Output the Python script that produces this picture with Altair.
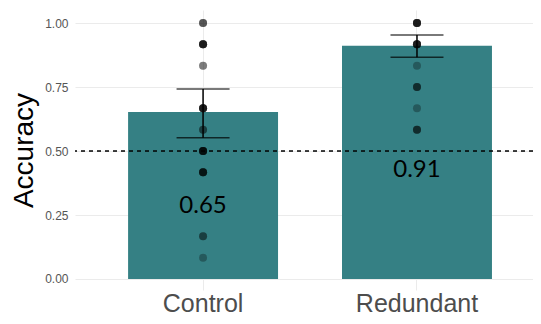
import altair as alt
import pandas as pd

conditions = ["Control", "Redundant"]
means = [0.652, 0.911]
se_low = [0.552, 0.866]
se_high = [0.742, 0.953]
label_text = ["0.65", "0.91"]
label_y = [0.287, 0.426]

control_values = [1.0, 0.917, 0.833, 0.667, 0.583, 0.5, 0.417, 0.167, 0.083]
control_counts = [3, 6, 2, 6, 2, 6, 5, 2, 1]
redundant_values = [1.0, 0.917, 0.833, 0.75, 0.667, 0.583]
redundant_counts = [6, 6, 1, 3, 1, 3]

summary = pd.DataFrame({
    "condition": conditions,
    "mean": means,
    "lo": se_low,
    "hi": se_high,
    "label": label_text,
    "ly": label_y,
})

rows = []
for cond, vals, cnts in [("Control", control_values, control_counts),
                         ("Redundant", redundant_values, redundant_counts)]:
    for v, c in zip(vals, cnts):
        for _ in range(c):
            rows.append({"condition": cond, "acc": v})
points = pd.DataFrame(rows)

grid_vals = [0, 0.125, 0.25, 0.375, 0.5, 0.625, 0.75, 0.875, 1.0]

x_enc = alt.X(
    "condition:N",
    scale=alt.Scale(domain=conditions, paddingInner=0.299, paddingOuter=0.22, align=0.564),
    axis=alt.Axis(title=None, labelFontSize=25, labelColor="#4d4d4d", ticks=False,
                  domain=False, grid=True, gridColor="#ebebeb", bandPosition=0.5,
                  labelBaseline="alphabetic", labelPadding=21, labelAngle=0,
                  labelFont="Liberation Sans"),
)
y_scale = alt.Scale(domain=[-0.043, 1.051], nice=False, zero=False)
y_axis = alt.Axis(values=grid_vals,
                  labelExpr="(datum.value*4) % 1 == 0 ? format(datum.value, '.2f') : ''",
                  title="Accuracy", titleFontSize=28, titleFont="Liberation Sans",
                  titleFontWeight="normal", titleColor="black",
                  labelFont="Liberation Sans", labelFontSize=12, labelColor="#555555",
                  ticks=False, domain=False, gridColor="#ebebeb", labelPadding=7,
                  titlePadding=6)

base = alt.Chart(summary)

bars = base.mark_bar(color="#358084").encode(
    x=x_enc,
    y=alt.Y("mean:Q", scale=y_scale, axis=y_axis),
    y2=alt.datum(0),
)

pts = alt.Chart(points).mark_circle(color="black", opacity=0.3, size=64).encode(
    x=x_enc,
    y=alt.Y("acc:Q", scale=y_scale, axis=y_axis),
)

err = base.mark_rule(color="black", strokeWidth=1.5).encode(
    x=x_enc,
    y=alt.Y("lo:Q", scale=y_scale, axis=y_axis),
    y2="hi:Q",
)
cap_lo = base.mark_tick(color="black", thickness=1.5, size=53).encode(
    x=x_enc, y=alt.Y("lo:Q", scale=y_scale, axis=y_axis))
cap_hi = base.mark_tick(color="black", thickness=1.5, size=53).encode(
    x=x_enc, y=alt.Y("hi:Q", scale=y_scale, axis=y_axis))

hline = base.mark_rule(color="black", strokeWidth=1, strokeDash=[4, 4]).encode(
    y=alt.datum(0.5))

txt = base.mark_text(font="Lato", fontSize=24, color="black", baseline="middle").encode(
    x=x_enc,
    y=alt.Y("ly:Q", scale=y_scale, axis=y_axis),
    text="label:N",
)

chart = alt.layer(bars, pts, err, cap_lo, cap_hi, hline, txt).properties(
    width=458, height=280,
    autosize=alt.AutoSizeParams(type="none"),
    padding={"left": 67, "top": 2, "right": 0, "bottom": 26},
    background="white",
).configure_view(stroke=None)

chart.save("out.html", embed_options={"renderer": "svg", "actions": False})
